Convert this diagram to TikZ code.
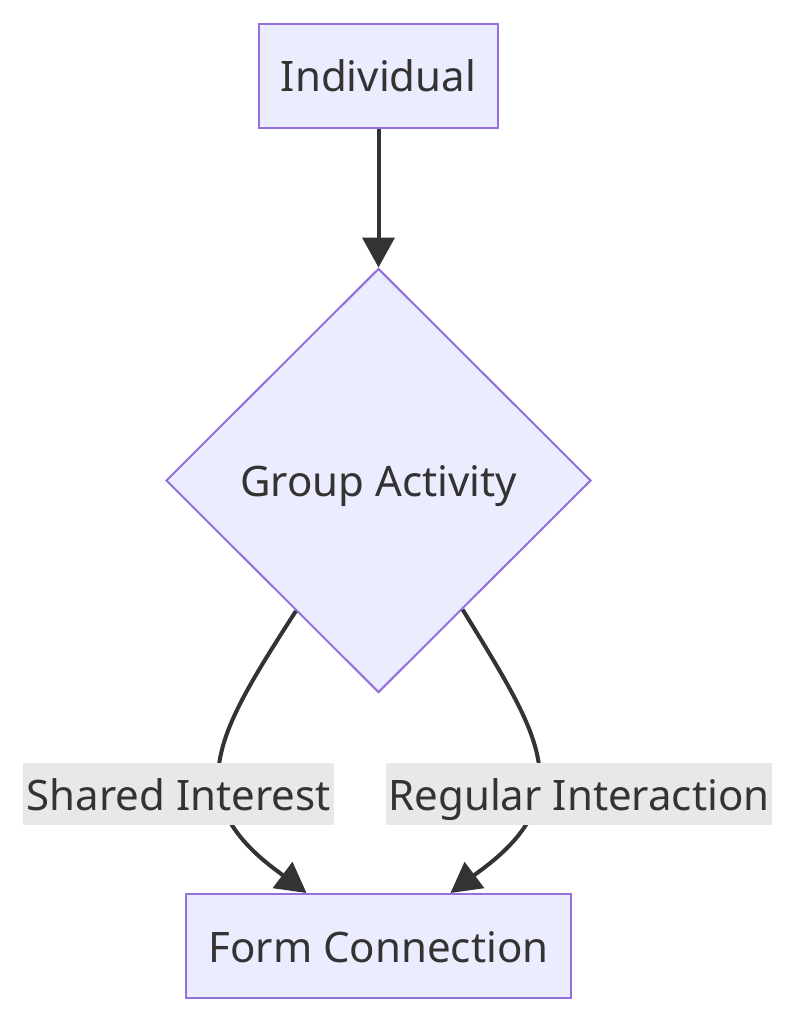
\documentclass[tikz,border=0pt]{standalone}
\usepackage{fontspec}
\setmainfont{Noto Sans}
\definecolor{nodeFill}{HTML}{ECECFF}
\definecolor{nodeLine}{HTML}{9370DB}
\definecolor{edgeLine}{HTML}{333333}
\definecolor{labelFill}{HTML}{E8E8E8}
\usetikzlibrary{shapes.geometric,arrows.meta,calc}

\begin{document}
\begin{tikzpicture}[x=1pt, y=-1pt]

    \tikzset{%
        box/.style={draw=nodeLine, fill=nodeFill, line width=2pt, text=edgeLine,
                minimum height=104pt, inner sep=0pt, text height=32pt, text depth=0pt,
                font=\fontsize{42pt}{50pt}\selectfont},
        choice/.style={box, shape=diamond, aspect=1,
                minimum width=425pt, minimum height=424pt},
        edge/.style={draw=edgeLine, line width=4pt,
                -{Triangle[length=30pt, width=32pt]}},
        edgeLabel/.style={fill=labelFill, text=edgeLine, inner xsep=3pt, inner ysep=0pt,
                minimum height=62pt, text height=32pt, text depth=0pt,
                font=\fontsize{42pt}{50pt}\selectfont},
    }

    \useasboundingbox (0, 0) rectangle (796, 1024);

    % nodes
    \node [box, minimum width=239pt] (ind) at (378.5, 76) {Individual};
    \node [choice] (grp) at (378.5, 480.5) {Group Activity};
    \node [box, minimum width=385pt] (form) at (378.5, 946) {Form Connection};

    % ends of the two curved edges
    \coordinate (outL) at ($(grp.west)!0.613!(grp.south)$);
    \coordinate (outR) at ($(grp.east)!0.606!(grp.south)$);
    \coordinate (inL) at ([xshift=-72pt]form.north);
    \coordinate (inR) at ([xshift=72pt]form.north);

    % edges
    \draw [edge] (ind.south) -- (grp.north);
    \draw [edge] (outL) .. controls (245, 690) and (218, 735) .. (218, 780)
        .. controls (218, 830) and (268, 864) .. (inL);
    \draw [edge] (outR) .. controls (512, 690) and (540, 735) .. (540, 780)
        .. controls (540, 830) and (489, 864) .. (inR);

    % labels
    \node [edgeLabel] (lblShared) at (178.5, 794) {Shared Interest};
    \node [edgeLabel] (lblRegular) at (579, 794) {Regular Interaction};

\end{tikzpicture}
\end{document}
